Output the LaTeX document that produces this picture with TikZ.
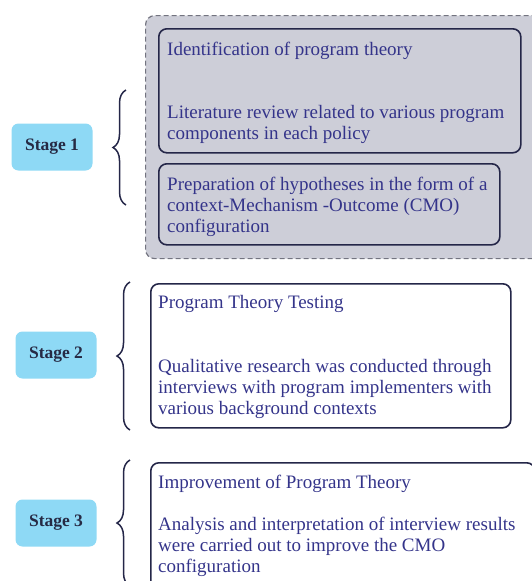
\documentclass[tikz,border=0pt]{standalone}
\usepackage{fontspec}
\setmainfont{Liberation Serif}
\usetikzlibrary{positioning}
\usetikzlibrary{decorations.pathreplacing}
\definecolor{stagefill}{RGB}{142,217,245}
\definecolor{stagetext}{RGB}{38,42,68}
\definecolor{boxline}{RGB}{36,38,72}
\definecolor{bodytext}{RGB}{52,52,138}
\definecolor{groupfill}{RGB}{205,206,216}
\definecolor{groupline}{RGB}{115,116,128}

\begin{document}
\begin{tikzpicture}[x=1pt,y=-1pt]
			\tikzstyle{stage}=[rectangle,rounded corners=7pt,fill=stagefill,text=stagetext,minimum width=81pt,minimum height=47pt,font=\fontsize{17.5}{20}\selectfont\bfseries]
			\tikzstyle{group}=[rectangle,rounded corners=9pt,fill=groupfill,draw=groupline,line width=1.2pt,dash pattern=on 5pt off 3pt,anchor=north west,inner sep=0pt]
			\tikzstyle{stepbox}=[rectangle,rounded corners=8pt,draw=boxline,line width=1.6pt,anchor=north west,inner sep=0pt]
			\tikzstyle{steptext}=[anchor=north west,inner sep=0pt,align=left,text=bodytext,font=\fontsize{19}{21}\selectfont]
			\tikzstyle{curly}=[draw=boxline,line width=1.5pt,decorate,decoration={brace,amplitude=13pt}]

			\clip (0,0) rectangle (532,581);

			% stage 1
			\node[group,minimum width=400pt,minimum height=243pt] (group1) at (145,15) {};
			\node[stepbox,minimum width=362pt,minimum height=124pt] (theory) at (158,28) {};
			\node[stepbox,minimum width=341pt,minimum height=81pt] (hypo) at (158,163) {};
			\node[steptext] (theorytxt) at ([shift={(9,14)}]theory.north west)
				{Identification of program theory\\[42pt]Literature review related to various program\\components in each policy};
			\node[steptext] (hypotxt) at ([shift={(9,14)}]hypo.north west)
				{Preparation of hypotheses in the form of a\\context-Mechanism -Outcome (CMO)\\configuration};
			\node[stage] (stage1) at (52,147) {Stage 1};
			\coordinate (top1) at (126,90);
			\coordinate (bot1) at (126,205);
			\draw[curly] (bot1) -- (top1);

			% stage 2
			\node[stepbox,minimum width=360pt,minimum height=144pt] (testing) at (150,283) {};
			\node[steptext] (testingtxt) at ([shift={(8,12)}]testing.north west)
				{Program Theory Testing\\[43pt]Qualitative research was conducted through\\interviews with program implementers with\\various background contexts};
			\node[stage] (stage2) at (56,355) {Stage 2};
			\coordinate (top2) at (130,282);
			\coordinate (bot2) at (130,430);
			\draw[curly] (bot2) -- (top2);

			% stage 3
			\node[stepbox,minimum width=384pt,minimum height=140pt] (improve) at (150,462) {};
			\node[steptext] (improvetxt) at ([shift={(8,13)}]improve.north west)
				{Improvement of Program Theory\\[21pt]Analysis and interpretation of interview results\\were carried out to improve the CMO\\configuration};
			\node[stage] (stage3) at (56,523) {Stage 3};
			\coordinate (top3) at (130,460);
			\coordinate (bot3) at (130,586);
			\draw[curly] (bot3) -- (top3);
\end{tikzpicture}
\end{document}
